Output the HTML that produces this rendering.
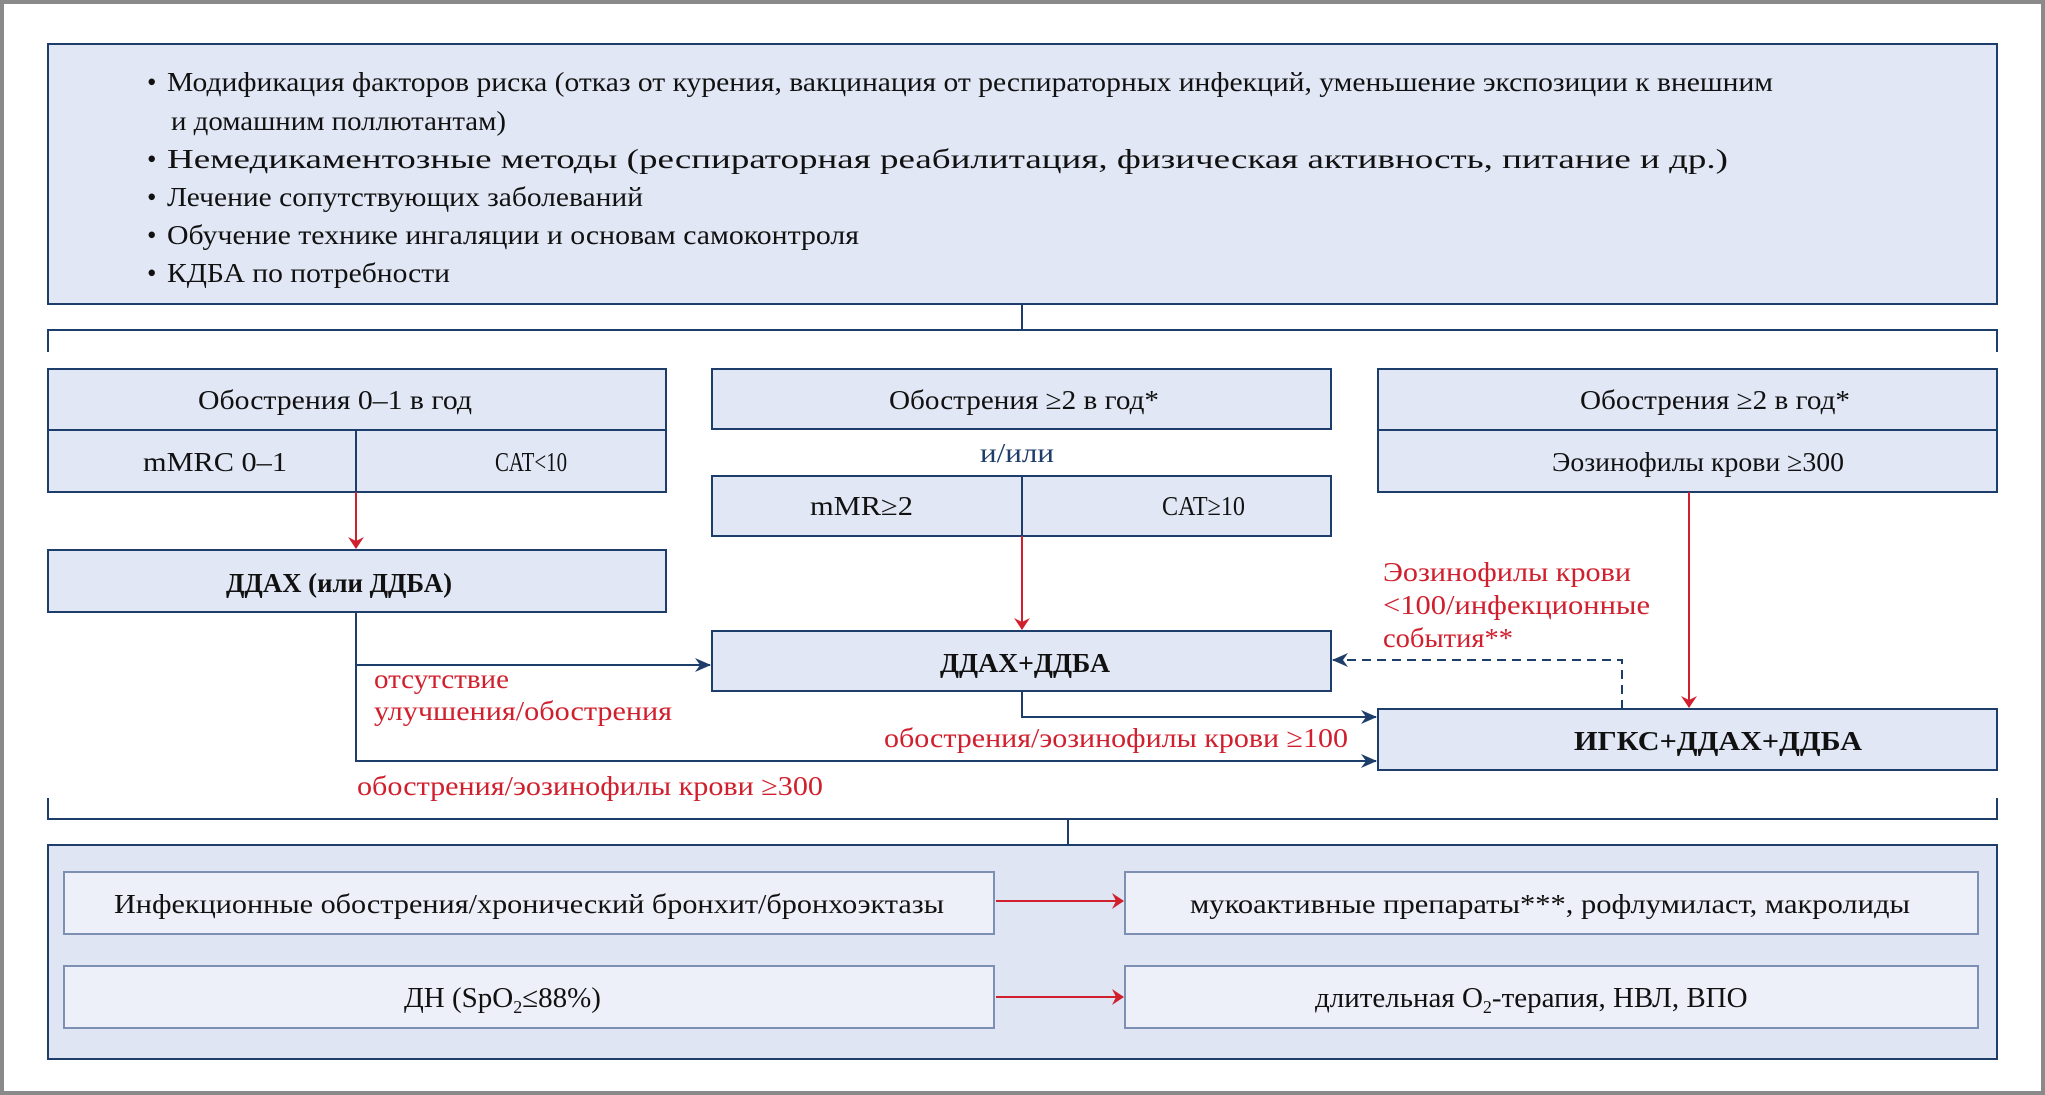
<!DOCTYPE html>
<html><head><meta charset="utf-8"><style>
html,body{margin:0;padding:0;background:#fff}
svg{display:block}
text{font-family:"Liberation Serif",serif;font-size:27px;fill:#111}
.r{fill:#d0202e}
.b{font-weight:bold}
</style></head><body>
<svg width="2045" height="1095" viewBox="0 0 2045 1095" xmlns="http://www.w3.org/2000/svg">
<defs>
<marker id="ab" markerWidth="16" markerHeight="14" refX="15" refY="7" orient="auto" markerUnits="userSpaceOnUse"><path d="M0,0 L16,7 L0,14 L5,7 Z" fill="#1d3d6b"/></marker>
<marker id="ar" markerWidth="12" markerHeight="16" refX="11" refY="8" orient="auto" markerUnits="userSpaceOnUse"><path d="M0,0 L12,8 L0,16 L4,8 Z" fill="#d0202e"/></marker>
</defs>
<rect x="2" y="2" width="2041" height="1091" fill="#fff" stroke="#8a8a8a" stroke-width="4"/>
<g stroke="#1d3d6b" stroke-width="2" fill="#e1e7f5">
<rect x="48" y="44" width="1949" height="260"/>
<rect x="48" y="369" width="618" height="123"/>
<rect x="712" y="369" width="619" height="60"/>
<rect x="712" y="476" width="619" height="60"/>
<rect x="1378" y="369" width="619" height="123"/>
<rect x="48" y="550" width="618" height="62"/>
<rect x="712" y="631" width="619" height="60"/>
<rect x="1378" y="709" width="619" height="61"/>
<rect x="48" y="845" width="1949" height="214" fill="#dfe5f3"/>
</g>
<g stroke="#7d8fb3" stroke-width="2" fill="#edf0f8">
<rect x="64" y="872" width="930" height="62"/>
<rect x="64" y="966" width="930" height="62"/>
<rect x="1125" y="872" width="853" height="62"/>
<rect x="1125" y="966" width="853" height="62"/>
</g>
<g stroke="#1d3d6b" stroke-width="2" fill="none">
<line x1="48" y1="430" x2="666" y2="430"/>
<line x1="356" y1="430" x2="356" y2="492"/>
<line x1="1022" y1="476" x2="1022" y2="536"/>
<line x1="1378" y1="430" x2="1997" y2="430"/>
<polyline points="48,352 48,330 1997,330 1997,352"/>
<line x1="1022" y1="304" x2="1022" y2="330"/>
<polyline points="48,798 48,819 1997,819 1997,798"/>
<line x1="1068" y1="819" x2="1068" y2="845"/>
<polyline points="356,612 356,761 1376,761" marker-end="url(#ab)"/>
<line x1="356" y1="665" x2="710" y2="665" marker-end="url(#ab)"/>
<polyline points="1022,691 1022,717 1376,717" marker-end="url(#ab)"/>
<polyline points="1622,709 1622,660 1333,660" stroke-dasharray="9,6" marker-end="url(#ab)"/>
</g>
<g stroke="#d0202e" stroke-width="2">
<line x1="356" y1="492" x2="356" y2="548" marker-end="url(#ar)"/>
<line x1="1022" y1="536" x2="1022" y2="629" marker-end="url(#ar)"/>
<line x1="1689" y1="492" x2="1689" y2="707" marker-end="url(#ar)"/>
<line x1="996" y1="901" x2="1123" y2="901" marker-end="url(#ar)"/>
<line x1="996" y1="997" x2="1123" y2="997" marker-end="url(#ar)"/>
</g>
<g>
<text x="147" y="91">•</text><text x="167" y="91" textLength="1606" lengthAdjust="spacingAndGlyphs">Модификация факторов риска (отказ от курения, вакцинация от респираторных инфекций, уменьшение экспозиции к внешним</text>
<text x="171" y="130" textLength="335" lengthAdjust="spacingAndGlyphs">и домашним поллютантам)</text>
<text x="147" y="168">•</text><text x="167" y="168" textLength="1561" lengthAdjust="spacingAndGlyphs">Немедикаментозные методы (респираторная реабилитация, физическая активность, питание и др.)</text>
<text x="147" y="206">•</text><text x="167" y="206" textLength="476" lengthAdjust="spacingAndGlyphs">Лечение сопутствующих заболеваний</text>
<text x="147" y="244">•</text><text x="167" y="244" textLength="692" lengthAdjust="spacingAndGlyphs">Обучение технике ингаляции и основам самоконтроля</text>
<text x="147" y="282">•</text><text x="167" y="282" textLength="283" lengthAdjust="spacingAndGlyphs">КДБА по потребности</text>

<text x="198" y="409" textLength="274" lengthAdjust="spacingAndGlyphs">Обострения 0–1 в год</text>
<text x="143" y="471" textLength="144" lengthAdjust="spacingAndGlyphs">mMRC 0–1</text>
<text x="495" y="471" textLength="72" lengthAdjust="spacingAndGlyphs">CAT&lt;10</text>
<text x="889" y="409" textLength="270" lengthAdjust="spacingAndGlyphs">Обострения ≥2 в год*</text>
<text x="980" y="462" textLength="74" lengthAdjust="spacingAndGlyphs" style="fill:#1d3d6b">и/или</text>
<text x="810" y="515" textLength="103" lengthAdjust="spacingAndGlyphs">mMR≥2</text>
<text x="1162" y="515" textLength="83" lengthAdjust="spacingAndGlyphs">CAT≥10</text>
<text x="1580" y="409" textLength="270" lengthAdjust="spacingAndGlyphs">Обострения ≥2 в год*</text>
<text x="1552" y="471" textLength="292" lengthAdjust="spacingAndGlyphs">Эозинофилы крови ≥300</text>
<text x="226" y="592" class="b" textLength="226" lengthAdjust="spacingAndGlyphs">ДДАХ (или ДДБА)</text>
<text x="940" y="672" class="b" textLength="170" lengthAdjust="spacingAndGlyphs">ДДАХ+ДДБА</text>
<text x="1574" y="750" class="b" textLength="288" lengthAdjust="spacingAndGlyphs">ИГКС+ДДАХ+ДДБА</text>

<text x="374" y="688" class="r" textLength="135" lengthAdjust="spacingAndGlyphs">отсутствие</text>
<text x="374" y="720" class="r" textLength="298" lengthAdjust="spacingAndGlyphs">улучшения/обострения</text>
<text x="357" y="795" class="r" textLength="466" lengthAdjust="spacingAndGlyphs">обострения/эозинофилы крови ≥300</text>
<text x="884" y="747" class="r" textLength="464" lengthAdjust="spacingAndGlyphs">обострения/эозинофилы крови ≥100</text>
<text x="1383" y="581" class="r" textLength="248" lengthAdjust="spacingAndGlyphs">Эозинофилы крови</text>
<text x="1383" y="614" class="r" textLength="267" lengthAdjust="spacingAndGlyphs">&lt;100/инфекционные</text>
<text x="1383" y="647" class="r" textLength="130" lengthAdjust="spacingAndGlyphs">события**</text>

<text x="114" y="913" textLength="830" lengthAdjust="spacingAndGlyphs">Инфекционные обострения/хронический бронхит/бронхоэктазы</text>
<text x="404" y="1007" style="font-size:29px">ДН (SpO<tspan font-size="18" dy="6">2</tspan><tspan dy="-6">≤88%)</tspan></text>
<text x="1190" y="913" textLength="720" lengthAdjust="spacingAndGlyphs">мукоактивные препараты***, рофлумиласт, макролиды</text>
<text x="1315" y="1007" style="font-size:29px">длительная O<tspan font-size="18" dy="6">2</tspan><tspan dy="-6">-терапия, НВЛ, ВПО</tspan></text>
</g>
</svg>
</body></html>
